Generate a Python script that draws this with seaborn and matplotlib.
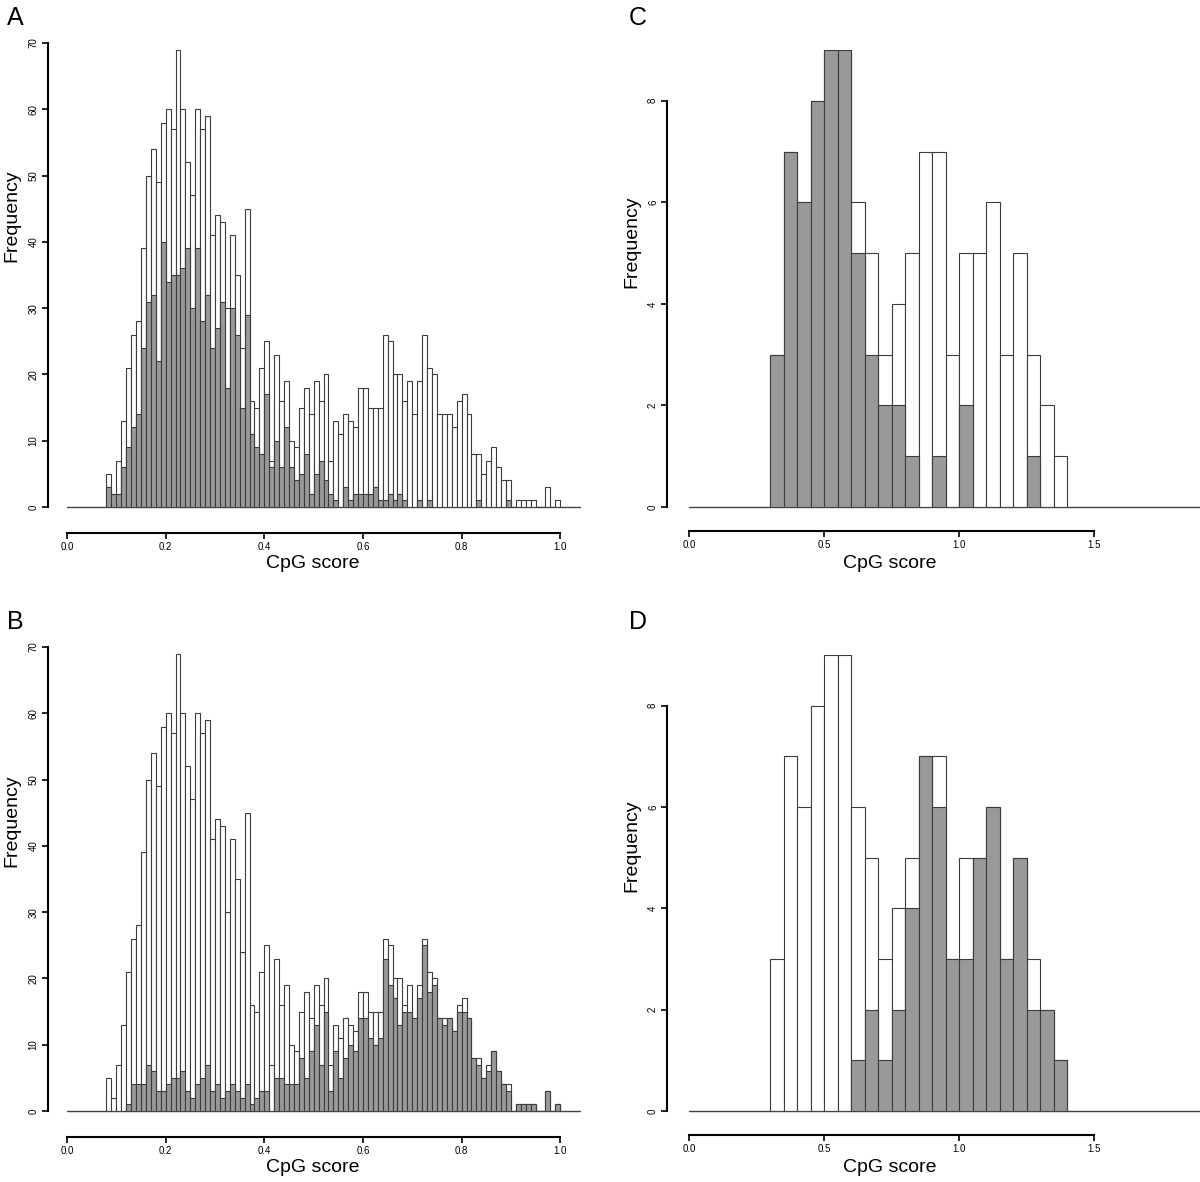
import numpy as np
import pandas as pd
import matplotlib
matplotlib.use("Agg")
import matplotlib.pyplot as plt
import seaborn as sns

# ── DATA ─────────────────────────────────────────────────────
# Panels A/B: CpG score histogram, bin width 0.01 starting at 0.08
ab_start, ab_width = 0.08, 0.01
ab_total = [5, 2, 7, 13, 21, 26, 28, 39, 50, 54,
            49, 58, 60, 57, 69, 60, 52, 47, 60, 57,
            59, 41, 44, 43, 30, 41, 35, 24, 45, 16,
            15, 21, 25, 7, 23, 16, 19, 10, 9, 15,
            18, 14, 19, 16, 20, 7, 13, 11, 14, 13,
            12, 18, 18, 15, 15, 15, 26, 25, 20, 20,
            16, 19, 14, 19, 26, 21, 20, 14, 14, 14,
            12, 16, 17, 14, 8, 8, 5, 7, 9, 6,
            4, 4, 0, 1, 1, 1, 1, 0, 0, 3,
            0, 1]
a_grey = [3, 2, 2, 6, 9, 12, 14, 24, 31, 32,
          22, 40, 34, 35, 35, 36, 39, 30, 39, 28,
          32, 24, 27, 31, 18, 30, 26, 15, 29, 11,
          9, 8, 17, 6, 10, 6, 12, 6, 4, 5,
          8, 2, 5, 7, 4, 2, 1, 0, 3, 1,
          2, 2, 2, 2, 3, 1, 1, 2, 1, 2,
          1, 0, 0, 1, 0, 1, 0, 0, 0, 0,
          0, 0, 0, 0, 0, 1, 0, 0, 0, 0,
          0, 1, 0, 0, 0, 0, 0, 0, 0, 0,
          0, 0]
b_grey = [0, 0, 0, 0, 1, 4, 4, 4, 7, 6,
          3, 3, 4, 5, 5, 6, 3, 2, 4, 5,
          7, 3, 4, 2, 3, 4, 3, 2, 4, 1,
          2, 3, 3, 0, 5, 5, 4, 4, 4, 8,
          5, 9, 13, 7, 15, 3, 9, 5, 8, 10,
          9, 14, 14, 11, 10, 11, 23, 19, 17, 13,
          15, 15, 14, 17, 25, 18, 19, 14, 13, 14,
          12, 15, 15, 14, 8, 7, 5, 6, 9, 6,
          4, 3, 0, 1, 1, 1, 1, 0, 0, 3,
          0, 1]

# Panels C/D: bin width 0.05 starting at 0.30
cd_start, cd_width = 0.30, 0.05
cd_total = [3, 7, 6, 8, 9, 9, 6, 5, 3, 4, 5, 7, 7, 3, 5, 5, 6, 3, 5, 3, 2, 1]
c_grey = [3, 7, 6, 8, 9, 9, 5, 3, 2, 2, 1, 0, 1, 0, 2, 0, 0, 0, 0, 1, 0, 0]
d_grey = [0, 0, 0, 0, 0, 0, 1, 2, 1, 2, 4, 7, 6, 3, 3, 5, 6, 3, 5, 2, 2, 1]

ab_xticks = [0.0, 0.2, 0.4, 0.6, 0.8, 1.0]
ab_yticks = [0, 10, 20, 30, 40, 50, 60, 70]
cd_xticks = [0.0, 0.5, 1.0, 1.5]
cd_yticks = [0, 2, 4, 6, 8]

# ── STYLE ────────────────────────────────────────────────────
sns.set_theme(style="ticks")
plt.rcParams["font.family"] = ["Liberation Sans", "DejaVu Sans"]
plt.rcParams["text.color"] = "black"
plt.rcParams["xtick.labelcolor"] = "black"
plt.rcParams["ytick.labelcolor"] = "black"

W, H = 1200, 1182
fig = plt.figure(figsize=(W / 100, H / 100), dpi=100)


def rect(left, right, top, bottom):
    return [left / W, 1 - bottom / H, (right - left) / W, (bottom - top) / H]


def draw_panel(ax, start, width, total, grey, xticks, yticks, xmax, ymax,
               out_x, out_y):
    edges = [round(start + width * i, 4) for i in range(len(total) + 1)]
    df = pd.DataFrame({"score": [(edges[i] + edges[i + 1]) / 2 for i in range(len(total))],
                       "total": total, "grey": grey})
    ax.axhline(0, color="#444444", lw=1, zorder=0, clip_on=False)
    sns.histplot(data=df, x="score", weights="total", bins=edges, color="white",
                 edgecolor="#3c3c3c", linewidth=0.8, alpha=1, ax=ax)
    sns.histplot(data=df, x="score", weights="grey", bins=edges, color="#999999",
                 edgecolor="#3c3c3c", linewidth=0.8, alpha=1, ax=ax)
    ax.set_xlim(0, xmax)
    ax.set_ylim(0, ymax)
    ax.set_xlabel(""); ax.set_ylabel("")
    ax.set_facecolor("none")
    for s in ["top", "right"]:
        ax.spines[s].set_visible(False)
    ax.spines["bottom"].set_position(("outward", out_x))
    ax.spines["bottom"].set_bounds(xticks[0], xticks[-1])
    ax.spines["left"].set_position(("outward", out_y))
    ax.spines["left"].set_bounds(yticks[0], yticks[-1])
    for s in ["bottom", "left"]:
        ax.spines[s].set_color("black")
        ax.spines[s].set_linewidth(1.5)
    ax.set_xticks(xticks)
    ax.set_xticklabels([f"{t:.1f}" for t in xticks])
    ax.set_yticks(yticks)
    ax.set_yticklabels([str(t) for t in yticks], va="center")
    ax.tick_params(axis="both", length=4.5, width=1.2, color="black",
                   labelsize=7, pad=2)
    ax.tick_params(axis="y", labelrotation=90, pad=2)


axA = fig.add_axes(rect(67, 580, 43, 507))
draw_panel(axA, ab_start, ab_width, ab_total, a_grey, ab_xticks, ab_yticks,
           1.04, 70, 18.7, 14.0)
axB = fig.add_axes(rect(67, 580, 647, 1111))
draw_panel(axB, ab_start, ab_width, ab_total, b_grey, ab_xticks, ab_yticks,
           1.04, 70, 18.7, 14.0)
axC = fig.add_axes(rect(689, 1200, 50, 507))
draw_panel(axC, cd_start, cd_width, cd_total, c_grey, cd_xticks, cd_yticks,
           511 / 270, 9, 17.3, 15.8)
axD = fig.add_axes(rect(689, 1200, 655, 1111))
draw_panel(axD, cd_start, cd_width, cd_total, d_grey, cd_xticks, cd_yticks,
           511 / 270, 9, 17.3, 15.8)

# labels
for (x, y) in [(313, 563), (313, 1168), (890, 563), (890, 1168)]:
    fig.text(x / W, 1 - y / H, "CpG score", fontsize=14, ha="center", va="center")
for (x, y) in [(12, 216), (12, 821), (632, 242), (632, 846)]:
    fig.text(x / W, 1 - y / H, "Frequency", fontsize=14, rotation=90,
             ha="center", va="center")
for (x, y, t) in [(15, 18, "A"), (15, 622, "B"), (638, 18, "C"), (638, 622, "D")]:
    fig.text(x / W, 1 - y / H, t, fontsize=18, ha="center", va="center")

fig.savefig("out.png", dpi=100, facecolor="white")
